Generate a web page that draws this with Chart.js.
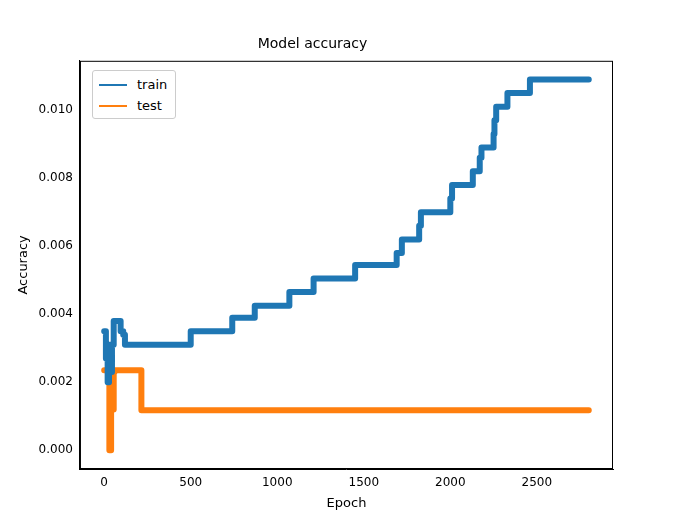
<!DOCTYPE html>
<html><head><meta charset="utf-8">
<script src="https://cdn.jsdelivr.net/npm/chart.js@4"></script>
<style>
body{margin:0;background:#fff;font-family:"DejaVu Sans",sans-serif}
#wrap{position:relative;width:681px;height:527px}
#legend{position:absolute;left:92px;top:70px;border:1px solid #ccc;border-radius:3px;background:#fff;padding:3px 8px 2px 6px;font-size:13px;color:#000}
#legend div{display:flex;align-items:center;height:21px}
#legend span.l{display:inline-block;width:28px;height:2px;margin-right:10px}
</style></head><body>
<div id="wrap"><canvas id="c" width="681" height="527"></canvas>
<div id="legend"><div><span class="l" style="background:#1f77b4"></span>train</div><div><span class="l" style="background:#ff7f0e"></span>test</div></div></div>
<script>
// epoch / accuracy step points
const trainEpochs = [0, 10, 20, 28, 35, 45, 55, 95, 110, 120, 500, 740, 870, 1070, 1210, 1450, 1690, 1720, 1820, 1830, 2000, 2010, 2130, 2170, 2180, 2250, 2255, 2265, 2330, 2460, 2800];
const trainAcc    = [0.0035, 0.0027, 0.002, 0.0031, 0.0023, 0.0031, 0.0038, 0.0035, 0.0034, 0.0031, 0.0035, 0.0039, 0.00425, 0.00465, 0.00505, 0.00545, 0.0058, 0.0062, 0.0066, 0.007, 0.0074, 0.0078, 0.0082, 0.0086, 0.0089, 0.0093, 0.0097, 0.0101, 0.0105, 0.0109, 0.0109];
const testEpochs = [0, 25, 30, 40, 45, 50, 55, 60, 215, 2800];
const testAcc    = [0.00235, 0.00235, 0.0, 0.0012, 0.0023, 0.0012, 0.0023, 0.00235, 0.00118, 0.00118];
const xTicks = [0, 500, 1000, 1500, 2000, 2500];
const yTicks = [0, 0.002, 0.004, 0.006, 0.008, 0.010];

const pts = (xs, ys) => xs.map((x, i) => ({x: x, y: ys[i]}));
const frame = {
  id: 'frame',
  afterDraw(chart) {
    const a = chart.chartArea, ctx = chart.ctx;
    ctx.save(); ctx.strokeStyle = '#000'; ctx.lineWidth = 1;
    ctx.strokeRect(a.left + 0.5, a.top + 0.5, a.width - 1, a.height - 1);
    ctx.restore();
  }
};
Chart.defaults.font.family = '"DejaVu Sans", sans-serif';
Chart.defaults.color = '#000';
new Chart(document.getElementById('c'), {
  type: 'line',
  data: {datasets: [
    {data: pts(trainEpochs, trainAcc), borderColor: '#1f77b4', borderWidth: 6, stepped: 'before', pointRadius: 0, borderCapStyle: 'round', borderJoinStyle: 'round'},
    {data: pts(testEpochs, testAcc), borderColor: '#ff7f0e', borderWidth: 6, stepped: 'before', pointRadius: 0, borderCapStyle: 'round', borderJoinStyle: 'round'}
  ]},
  options: {
    responsive: false, animation: false,
    layout: {padding: {left: 12, right: 68, top: 12, bottom: 12}},
    plugins: {legend: {display: false}, tooltip: {enabled: false},
      title: {display: true, text: 'Model accuracy', font: {size: 14, weight: 'normal'}, padding: {top: 24, bottom: 8}}},
    scales: {
      x: {type: 'linear', min: -140, max: 2940,
        afterBuildTicks: s => { s.ticks = xTicks.map(v => ({value: v})); },
        ticks: {font: {size: 12}, callback: v => String(v)},
        grid: {display: false, drawTicks: true, tickLength: 4, tickColor: '#000'},
        border: {color: '#000'},
        title: {display: true, text: 'Epoch', font: {size: 13}, padding: {top: 2}}},
      y: {type: 'linear', min: -0.00055, max: 0.01145,
        afterBuildTicks: s => { s.ticks = yTicks.map(v => ({value: v})); },
        ticks: {font: {size: 12}, callback: v => v.toFixed(3)},
        grid: {display: false, drawTicks: true, tickLength: 4, tickColor: '#000'},
        border: {color: '#000'},
        title: {display: true, text: 'Accuracy', font: {size: 13}}}
    }
  },
  plugins: [frame]
});
</script></body></html>
